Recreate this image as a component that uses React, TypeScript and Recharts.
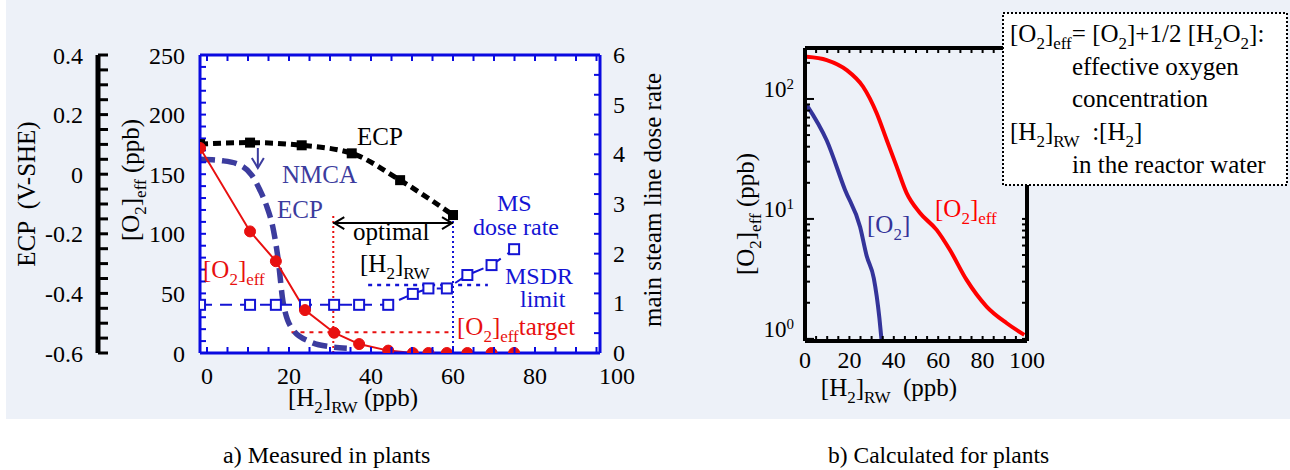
import React from "react";
import {
  ComposedChart,
  LineChart,
  Line,
  XAxis,
  YAxis,
  CartesianGrid,
  ReferenceLine,
} from "recharts";

const FONT = "'Liberation Serif', 'DejaVu Serif', 'Times New Roman', serif";
const BG = "#edf1f8";
const FRAME = "#0a0ae0";
const DOSE_BLUE = "#1414d4";
const NMCA = "#3c3c9e";
const RED = "#e81010";
const CALC_BLUE = "#34349a";

// axis ids: left axes are stacked by id, "a_o2" sits next to the plot, "b_ecp" outside it
const O2 = "a_o2";
const ECP = "b_ecp";

// ---- a) measured in plants ----
const plantH2 = [-1.7, 10.5, 16.8, 23.9, 31, 37.1, 44.2, 50.2, 54, 58.5, 63.5, 69.4, 74.9];
const o2EffPlant = [172, 102, 77, 36, 17, 7.5, 2, 0, 0, 0, 0, 0, 0];
const msDoseRate = [0.97, 0.97, 0.97, 0.97, 0.97, 0.97, 0.97, 1.19, 1.3, 1.3, 1.57, 1.77, 2.09];

const ecpH2 = [-1.7, 10.5, 23.1, 35.3, 47.1, 60];
const ecpPlant = [0.101, 0.106, 0.097, 0.07, -0.02, -0.137];

const nmcaH2 = [-1.7, 3.9, 8, 10.9, 12.9, 14.6, 16.2, 17.3, 18.6, 21, 25.1, 30, 34.1];
const nmcaEcp = [0.05, 0.045, 0.031, -0.003, -0.053, -0.109, -0.187, -0.28, -0.433, -0.523, -0.562, -0.579, -0.584];

const optimalH2 = [30.8, 60];
const optimalTopO2 = 117;
const arrowO2 = 109;
const o2Target = 17.4;
const targetH2 = [20.6, 60];
const msdrLimit = 1.37;
const msdrH2 = [39.3, 68.5];
const nmcaArrowH2 = 12.4;
const nmcaArrowEcp = [0.088, 0.021];

const xTickLabelsA = [0, 20, 40, 60, 80, 100];
const o2TickLabels = [0, 50, 100, 150, 200, 250];
const ecpTickLabels = [-0.6, -0.4, -0.2, 0, 0.2, 0.4];
const doseTickLabels = [0, 1, 2, 3, 4, 5, 6];

// ---- b) calculated for plants ----
const calcH2Eff = [0.8, 9.8, 18.8, 26.1, 32.3, 36.8, 41.3, 45.8, 51.8, 59.3, 65.3, 72.8, 81.8, 90.9, 98.8];
const calcO2Eff = [225, 211, 174, 127, 76, 45.5, 27.3, 16.4, 11.2, 8.1, 5.5, 3.1, 1.86, 1.35, 1.08];
const calcH2O2 = [0.8, 9.8, 18, 24.8, 27.8, 31, 33.5, 34.5];
const calcO2 = [89, 45, 17.5, 8.6, 4.9, 3.2, 1.5, 0.97];

const xTickLabelsB = [0, 20, 40, 60, 80, 100];
const logTickLabels = [1, 10, 100];

const range = (a: number, b: number, step: number) =>
  Array.from({ length: Math.round((b - a) / step) + 1 }, (_, i) => +(a + i * step).toFixed(4));

const X_DOMAIN_A: [number, number] = [-1.707, 95.85];
const LOG_DOMAIN: [number, number] = [0.96, 266];
const xTicksA = range(0, 100, 5);
const xFrameTop = range(0, 95, 5);
const o2Minor = range(0, 250, 10);
const ecpMinor = range(-0.6, 0.4, 0.05);
const doseTicks = Array.from(new Set([...range(0, 6, 0.4), ...doseTickLabels])).sort((a, b) => a - b);
const xMinorB = range(0, 100, 5);
const logMinor = [1, 10, 100].flatMap((d) => range(1, 9, 1).map((m) => m * d)).filter((v) => v <= 260);

const plantRows = plantH2.map((h2, i) => ({ h2, o2: o2EffPlant[i], dose: msDoseRate[i] }));
const ecpRows = ecpH2.map((h2, i) => ({ h2, ecp: ecpPlant[i] }));
const nmcaRows = nmcaH2.map((h2, i) => ({ h2, ecp: nmcaEcp[i] }));
const effRows = calcH2Eff.map((h2, i) => ({ h2, v: calcO2Eff[i] }));
const o2Rows = calcH2O2.map((h2, i) => ({ h2, v: calcO2[i] }));

const tickFont = { fill: "#000", fontSize: 24, fontFamily: FONT };
const near = (a: number, b: number) => Math.abs(a - b) < 1e-6;
const only = (labels: number[]) => (v: number) => (labels.some((l) => near(l, v)) ? String(v) : "");

type Part = string | { sub: string } | { sup: string };

function Rich({
  x,
  y,
  parts,
  size = 25,
  fill = "#000",
  anchor = "start",
  rotate = false,
}: {
  x: number;
  y: number;
  parts: Part[];
  size?: number;
  fill?: string;
  anchor?: "start" | "middle" | "end";
  rotate?: boolean;
}) {
  let shift = 0;
  const spans = parts.map((p, i) => {
    if (typeof p === "string") {
      const dy = -shift;
      shift = 0;
      return (
        <tspan key={i} dy={dy}>
          {p}
        </tspan>
      );
    }
    const isSub = "sub" in p;
    const target = isSub ? size * 0.26 : -size * 0.4;
    const dy = target - shift;
    shift = target;
    return (
      <tspan key={i} dy={dy} fontSize={size * 0.68}>
        {isSub ? (p as any).sub : (p as any).sup}
      </tspan>
    );
  });
  return (
    <text
      x={x}
      y={y}
      fill={fill}
      fontSize={size}
      fontFamily={FONT}
      textAnchor={anchor}
      style={{ whiteSpace: "pre" }}
      transform={rotate ? `rotate(-90 ${x} ${y})` : undefined}
    >
      {spans}
    </text>
  );
}

const DoubleArrow = (p: any) => {
  const { x1, y1, x2, y2 } = p;
  return (
    <g stroke="#000" strokeWidth={2} fill="none">
      <line x1={x1} y1={y1} x2={x2} y2={y2} />
      <polyline points={`${x1 + 11},${y1 - 6} ${x1 + 1},${y1} ${x1 + 11},${y1 + 6}`} />
      <polyline points={`${x2 - 11},${y2 - 6} ${x2 - 1},${y2} ${x2 - 11},${y2 + 6}`} />
    </g>
  );
};

const DownArrow = (p: any) => {
  const { x1, y1, x2, y2 } = p;
  return (
    <g stroke={NMCA} strokeWidth={2} fill="none">
      <line x1={x1} y1={y1} x2={x2} y2={y2} />
      <polyline points={`${x2 - 6},${y2 - 10} ${x2},${y2} ${x2 + 6},${y2 - 10}`} />
    </g>
  );
};

// bottom axis of panel a: inward frame tick + label every 20
const BottomTickA = (props: any) => {
  const { x, y, payload } = props;
  const axisY = y - 15;
  const v = payload.value;
  return (
    <g>
      {v <= X_DOMAIN_A[1] ? (
        <line x1={x} y1={axisY} x2={x} y2={axisY - 6} stroke={FRAME} strokeWidth={2} />
      ) : null}
      {xTickLabelsA.includes(v) ? (
        <text x={x} y={axisY + 31} textAnchor="middle" {...tickFont}>
          {v}
        </text>
      ) : null}
    </g>
  );
};

// right axis of panel a: frame ticks every 0.4, labels at integers
const DoseTick = (props: any) => {
  const { x, y, payload } = props;
  const axisX = x - 13;
  const v = payload.value;
  const frameTick = near(v / 0.4, Math.round(v / 0.4));
  const label = doseTickLabels.some((l) => near(l, v));
  return (
    <g>
      {frameTick ? <line x1={axisX} y1={y} x2={axisX - 6} y2={y} stroke={FRAME} strokeWidth={2} /> : null}
      {label ? (
        <text x={axisX + 13} y={y + 8} textAnchor="start" {...tickFont}>
          {v}
        </text>
      ) : null}
    </g>
  );
};

const LogTick = (props: any) => {
  const { x, y, payload } = props;
  const axisX = x + 11;
  const lg = Math.log10(payload.value);
  const exp = Math.round(lg);
  const major = Math.abs(lg - exp) < 1e-6;
  return (
    <g>
      <line x1={axisX} y1={y} x2={axisX + (major ? 9 : 5)} y2={y} stroke="#000" strokeWidth={2} />
      {major && logTickLabels.includes(payload.value) ? (
        <text x={x} y={y - 2} textAnchor="end" fontSize={23} fontFamily={FONT} fill="#000">
          10
          <tspan dy={-8} fontSize={15}>
            {exp}
          </tspan>
        </text>
      ) : null}
    </g>
  );
};

function PanelA() {
  return (
    <ComposedChart width={700} height={420} margin={{ top: 54, right: 40, bottom: 27, left: 8 }}>
      <CartesianGrid xAxisId="x" yAxisId={O2} horizontal={false} vertical={false} fill="#fff" />
      <XAxis
        xAxisId="x"
        type="number"
        dataKey="h2"
        domain={X_DOMAIN_A}
        allowDataOverflow
        ticks={xTicksA}
        interval={0}
        height={40}
        tickSize={0}
        tickMargin={15}
        tick={BottomTickA}
        tickLine={false}
        axisLine={{ stroke: FRAME, strokeWidth: 3 }}
      />
      <XAxis
        xAxisId="xt"
        orientation="top"
        type="number"
        dataKey="h2"
        domain={X_DOMAIN_A}
        allowDataOverflow
        ticks={xFrameTop}
        interval={0}
        height={1}
        tickSize={-6}
        tickFormatter={() => ""}
        axisLine={{ stroke: FRAME, strokeWidth: 3 }}
        tickLine={{ stroke: FRAME, strokeWidth: 2 }}
      />
      <YAxis
        yAxisId={O2}
        type="number"
        domain={[0, 250]}
        allowDataOverflow
        ticks={o2Minor}
        interval={0}
        width={102}
        tickSize={-6}
        tickMargin={21}
        tickFormatter={only(o2TickLabels)}
        tick={tickFont}
        axisLine={{ stroke: FRAME, strokeWidth: 3 }}
        tickLine={{ stroke: FRAME, strokeWidth: 2 }}
      />
      <YAxis
        yAxisId={ECP}
        type="number"
        domain={[-0.6, 0.4]}
        allowDataOverflow
        ticks={ecpMinor}
        interval={0}
        width={90}
        tickSize={-10}
        tickMargin={25}
        tickFormatter={only(ecpTickLabels)}
        tick={tickFont}
        axisLine={{ stroke: "#000", strokeWidth: 5 }}
        tickLine={{ stroke: "#000", strokeWidth: 3 }}
      />
      <YAxis
        yAxisId="dose"
        orientation="right"
        type="number"
        domain={[0, 6]}
        allowDataOverflow
        ticks={doseTicks}
        interval={0}
        width={60}
        axisLine={{ stroke: FRAME, strokeWidth: 3 }}
        tickLine={false}
        tickSize={0}
        tickMargin={13}
        tick={DoseTick}
      />

      <ReferenceLine
        xAxisId="x"
        yAxisId={O2}
        segment={[{ x: optimalH2[0], y: 0 }, { x: optimalH2[0], y: optimalTopO2 }]}
        stroke={RED}
        strokeWidth={2}
        strokeDasharray="2 3"
      />
      <ReferenceLine
        xAxisId="x"
        yAxisId={O2}
        segment={[{ x: optimalH2[1], y: 0 }, { x: optimalH2[1], y: optimalTopO2 }]}
        stroke={DOSE_BLUE}
        strokeWidth={2}
        strokeDasharray="2 3"
      />
      <ReferenceLine
        xAxisId="x"
        yAxisId={O2}
        segment={[{ x: targetH2[0], y: o2Target }, { x: targetH2[1], y: o2Target }]}
        stroke={RED}
        strokeWidth={2}
        strokeDasharray="4 5"
      />
      <ReferenceLine
        xAxisId="x"
        yAxisId="dose"
        segment={[{ x: msdrH2[0], y: msdrLimit }, { x: msdrH2[1], y: msdrLimit }]}
        stroke={DOSE_BLUE}
        strokeWidth={2.5}
        strokeDasharray="4 5"
      />
      <ReferenceLine
        xAxisId="x"
        yAxisId={O2}
        segment={[{ x: optimalH2[0], y: arrowO2 }, { x: optimalH2[1], y: arrowO2 }]}
        shape={DoubleArrow}
      />
      <ReferenceLine
        xAxisId="x"
        yAxisId={ECP}
        segment={[{ x: nmcaArrowH2, y: nmcaArrowEcp[0] }, { x: nmcaArrowH2, y: nmcaArrowEcp[1] }]}
        shape={DownArrow}
      />

      {/* invisible copy so the top frame axis gets a scale */}
      <Line
        xAxisId="xt"
        yAxisId={O2}
        data={plantRows}
        dataKey="o2"
        stroke="none"
        dot={false}
        activeDot={false}
        legendType="none"
        isAnimationActive={false}
      />
      <Line
        xAxisId="x"
        yAxisId={ECP}
        data={nmcaRows}
        dataKey="ecp"
        type="monotone"
        stroke={NMCA}
        strokeWidth={5.5}
        strokeDasharray="15 7"
        dot={false}
        activeDot={false}
        isAnimationActive={false}
      />
      <Line
        xAxisId="x"
        yAxisId="dose"
        data={plantRows}
        dataKey="dose"
        type="linear"
        stroke={DOSE_BLUE}
        strokeWidth={2}
        strokeDasharray="12 8"
        dot={(p: any) => (
          <rect key={p.index} x={p.cx - 5} y={p.cy - 5} width={10} height={10} fill="#fff" stroke={DOSE_BLUE} strokeWidth={2} />
        )}
        activeDot={false}
        isAnimationActive={false}
      />
      <Line
        xAxisId="x"
        yAxisId={ECP}
        data={ecpRows}
        dataKey="ecp"
        type="monotone"
        stroke="#000"
        strokeWidth={5}
        strokeDasharray="8 5"
        dot={(p: any) => <rect key={p.index} x={p.cx - 5} y={p.cy - 5} width={10} height={10} fill="#000" />}
        activeDot={false}
        isAnimationActive={false}
      />
      <Line
        xAxisId="x"
        yAxisId={O2}
        data={plantRows}
        dataKey="o2"
        type="linear"
        stroke={RED}
        strokeWidth={2}
        dot={{ r: 5.5, fill: RED, stroke: RED, strokeWidth: 1 }}
        activeDot={false}
        isAnimationActive={false}
      />
    </ComposedChart>
  );
}

function PanelB() {
  const black = { stroke: "#000", strokeWidth: 4 };
  return (
    <LineChart width={590} height={420} margin={{ top: 47, right: 262, bottom: 39, left: 0 }}>
      <XAxis
        xAxisId="b"
        type="number"
        dataKey="h2"
        domain={[0, 100]}
        allowDataOverflow
        ticks={xMinorB}
        interval={0}
        height={40}
        tickSize={-5}
        tickMargin={15}
        tickFormatter={only(xTickLabelsB)}
        tick={tickFont}
        axisLine={black}
        tickLine={{ stroke: "#000", strokeWidth: 2 }}
      />
      <XAxis
        xAxisId="bt"
        orientation="top"
        type="number"
        dataKey="h2"
        domain={[0, 100]}
        allowDataOverflow
        ticks={xMinorB}
        interval={0}
        height={1}
        tickSize={-5}
        tickFormatter={() => ""}
        axisLine={black}
        tickLine={{ stroke: "#000", strokeWidth: 2 }}
      />
      <YAxis
        yAxisId="bl"
        type="number"
        scale="log"
        domain={LOG_DOMAIN}
        allowDataOverflow
        ticks={logMinor}
        interval={0}
        width={105}
        tickSize={0}
        tickMargin={11}
        tickLine={false}
        tick={LogTick}
        axisLine={black}
      />
      <YAxis
        yAxisId="br"
        orientation="right"
        type="number"
        scale="log"
        domain={LOG_DOMAIN}
        allowDataOverflow
        ticks={logMinor}
        interval={0}
        width={1}
        tickSize={-5}
        tickFormatter={() => ""}
        axisLine={black}
        tickLine={{ stroke: "#000", strokeWidth: 2 }}
      />
      {/* invisible copy so the top and right frame axes get a scale */}
      <Line
        xAxisId="bt"
        yAxisId="br"
        data={effRows}
        dataKey="v"
        stroke="none"
        dot={false}
        activeDot={false}
        legendType="none"
        isAnimationActive={false}
      />
      <Line
        xAxisId="b"
        yAxisId="bl"
        data={effRows}
        dataKey="v"
        type="monotone"
        stroke="#ff0000"
        strokeWidth={4}
        dot={false}
        activeDot={false}
        isAnimationActive={false}
      />
      <Line
        xAxisId="b"
        yAxisId="bl"
        data={o2Rows}
        dataKey="v"
        type="monotone"
        stroke={CALC_BLUE}
        strokeWidth={4}
        dot={false}
        activeDot={false}
        isAnimationActive={false}
      />
    </LineChart>
  );
}

export default function App() {
  return (
    <div style={{ position: "absolute", left: 0, top: 0, width: 1290, height: 470, background: "#fff", overflow: "hidden" }}>
      <div style={{ position: "absolute", left: 6, top: 0, width: 1284, height: 419, background: BG }} />
      <div style={{ position: "absolute", left: 0, top: 0 }}>
        <PanelA />
      </div>
      <div style={{ position: "absolute", left: 700, top: 0 }}>
        <PanelB />
      </div>
      <svg width={1290} height={470} style={{ position: "absolute", left: 0, top: 0, pointerEvents: "none" }}>
        {/* axis titles, panel a */}
        <Rich x={35} y={194} anchor="middle" rotate parts={["ECP  (V-SHE)"]} />
        <Rich x={139} y={180} anchor="middle" rotate parts={["[O", { sub: "2" }, "]", { sub: "eff" }, " (ppb)"]} />
        <Rich x={661} y={200} anchor="middle" rotate parts={["main steam line dose rate"]} />
        <Rich x={353} y={406} anchor="middle" parts={["[H", { sub: "2" }, "]", { sub: "RW" }, " (ppb)"]} />

        {/* annotations, panel a */}
        <Rich x={357} y={145} parts={["ECP"]} />
        <Rich x={282} y={183} fill={NMCA} parts={["NMCA"]} />
        <Rich x={277} y={218} fill={NMCA} parts={["ECP"]} />
        <Rich x={353} y={240} parts={["optimal"]} />
        <Rich x={360} y={272} parts={["[H", { sub: "2" }, "]", { sub: "RW" }]} />
        <Rich x={497} y={211} size={24} fill={DOSE_BLUE} parts={["MS"]} />
        <Rich x={473} y={235} size={24} fill={DOSE_BLUE} parts={["dose rate"]} />
        <Rich x={505} y={284} size={24} fill={DOSE_BLUE} parts={["MSDR"]} />
        <Rich x={520} y={307} size={24} fill={DOSE_BLUE} parts={["limit"]} />
        <Rich x={457} y={335} fill={RED} parts={["[O", { sub: "2" }, "]", { sub: "eff" }, "target"]} />
        <Rich x={203} y={278} fill={RED} parts={["[O", { sub: "2" }, "]", { sub: "eff" }]} />

        {/* panel b */}
        <Rich x={754} y={214} anchor="middle" rotate parts={["[O", { sub: "2" }, "]", { sub: "eff" }, " (ppb)"]} />
        <Rich x={889} y={396} anchor="middle" parts={["[H", { sub: "2" }, "]", { sub: "RW" }, "  (ppb)"]} />
        <Rich x={867} y={233} fill={CALC_BLUE} parts={["[O", { sub: "2" }, "]"]} />
        <Rich x={935} y={217} fill="#ff0000" parts={["[O", { sub: "2" }, "]", { sub: "eff" }]} />

        {/* definition box */}
        <rect x={1003} y={13} width={284} height={172} fill="#fff" stroke="#000" strokeWidth={2} strokeDasharray="2 2" />
        <Rich
          x={1010}
          y={42}
          parts={["[O", { sub: "2" }, "]", { sub: "eff" }, "= [O", { sub: "2" }, "]+1/2 [H", { sub: "2" }, "O", { sub: "2" }, "]:"]}
        />
        <Rich x={1072} y={74.5} parts={["effective oxygen"]} />
        <Rich x={1072} y={107} parts={["concentration"]} />
        <Rich x={1010} y={140} parts={["[H", { sub: "2" }, "]", { sub: "RW" }, "  :[H", { sub: "2" }, "]"]} />
        <Rich x={1072} y={172.5} parts={["in the reactor water"]} />

        {/* captions */}
        <Rich x={223} y={463} size={24} parts={["a) Measured in plants"]} />
        <Rich x={828} y={463} size={23.5} parts={["b) Calculated for plants"]} />
      </svg>
    </div>
  );
}
